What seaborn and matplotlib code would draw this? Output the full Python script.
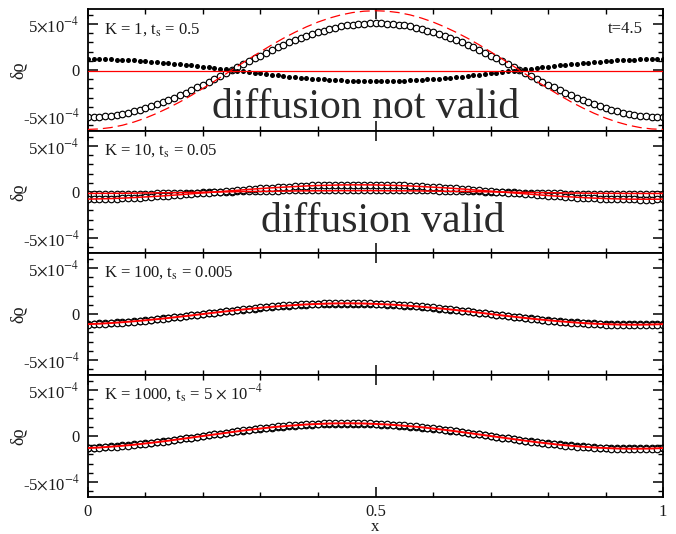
import numpy as np
import pandas as pd
import matplotlib
matplotlib.use("Agg")
import matplotlib.pyplot as plt
from matplotlib.ticker import FixedLocator, MultipleLocator, FixedFormatter
import seaborn as sns

# ---------------- data (values in units of 1e-4) ----------------
x_pts = np.linspace(0.0, 1.0, 101)     # sample positions of the markers
x_line = np.linspace(0.0, 1.0, 51)     # sample positions of the theory curves

# panel 1 : K = 1
p1_open = [
    -5.10, -5.09, -5.06, -5.01, -4.94, -4.85, -4.74, -4.62, -4.47, -4.30,
    -4.13, -3.93, -3.72, -3.49, -3.25, -3.00, -2.73, -2.46, -2.17, -1.88,
    -1.58, -1.27, -0.95, -0.64, -0.32, 0.00,
    0.32, 0.64, 0.95, 1.27, 1.58, 1.88, 2.17, 2.46, 2.73, 3.00, 3.25, 3.49, 3.72,
    3.93, 4.13, 4.30, 4.47, 4.62, 4.74, 4.85, 4.94, 5.01, 5.06, 5.09, 5.10,
    5.09, 5.06, 5.01, 4.94, 4.85, 4.74, 4.62, 4.47, 4.30, 4.13, 3.93, 3.72, 3.49,
    3.25, 3.00, 2.73, 2.46, 2.17, 1.88, 1.58, 1.27, 0.95, 0.64, 0.32, 0.00,
    -0.32, -0.64, -0.95, -1.27, -1.58, -1.88, -2.17, -2.46, -2.73, -3.00, -3.25,
    -3.49, -3.72, -3.93, -4.13, -4.30, -4.47, -4.62, -4.74, -4.85, -4.94, -5.01,
    -5.06, -5.09, -5.10]
p1_filled = [
    1.20, 1.20, 1.19, 1.18, 1.16, 1.14, 1.12, 1.09, 1.05, 1.01, 0.97, 0.93, 0.87,
    0.82, 0.76, 0.71, 0.64, 0.58, 0.51, 0.44, 0.37, 0.30, 0.22, 0.15, 0.08, 0.00,
    -0.08, -0.15, -0.22, -0.30, -0.37, -0.44, -0.51, -0.58, -0.64, -0.71, -0.76,
    -0.82, -0.87, -0.93, -0.97, -1.01, -1.05, -1.09, -1.12, -1.14, -1.16, -1.18,
    -1.19, -1.20, -1.20,
    -1.20, -1.19, -1.18, -1.16, -1.14, -1.12, -1.09, -1.05, -1.01, -0.97, -0.93,
    -0.87, -0.82, -0.76, -0.71, -0.64, -0.58, -0.51, -0.44, -0.37, -0.30, -0.22,
    -0.15, -0.08, 0.00,
    0.08, 0.15, 0.22, 0.30, 0.37, 0.44, 0.51, 0.58, 0.64, 0.71, 0.76, 0.82, 0.87,
    0.93, 0.97, 1.01, 1.05, 1.09, 1.12, 1.14, 1.16, 1.18, 1.19, 1.20, 1.20]
p1_theory_dashed = [
    -6.45, -6.40, -6.25, -6.00, -5.65, -5.22, -4.70, -4.11, -3.46, -2.75, -1.99,
    -1.21, -0.41, 0.41, 1.21, 1.99, 2.75, 3.46, 4.11, 4.70, 5.22, 5.65, 6.00, 6.25,
    6.40, 6.45, 6.40, 6.25, 6.00, 5.65, 5.22, 4.70, 4.11, 3.46, 2.75, 1.99, 1.21,
    0.41, -0.41, -1.21, -1.99, -2.75, -3.46, -4.11, -4.70, -5.22, -5.65, -6.00,
    -6.25, -6.40, -6.45]
p1_theory_flat_x = [0.0, 1.0]
p1_theory_flat = [-0.07, -0.07]

# panel 2 : K = 10
p2_a = [
    -0.81, -0.79, -0.78, -0.76, -0.74, -0.72, -0.69, -0.66, -0.63, -0.60, -0.56,
    -0.52, -0.48, -0.44, -0.40, -0.35, -0.30, -0.25, -0.20, -0.15, -0.10, -0.05, 0.00,
    0.05, 0.10, 0.15, 0.20, 0.25, 0.30, 0.35, 0.40, 0.44, 0.48, 0.52, 0.56, 0.60,
    0.63, 0.66, 0.69, 0.72, 0.74, 0.76, 0.78, 0.79, 0.81, 0.81, 0.82, 0.82,
    0.82, 0.81, 0.81, 0.79, 0.78, 0.76, 0.74, 0.72, 0.69, 0.66, 0.63, 0.60, 0.56,
    0.52, 0.48, 0.44, 0.40, 0.35, 0.30, 0.25, 0.20, 0.15, 0.10, 0.05, 0.00,
    -0.05, -0.10, -0.15, -0.20, -0.25, -0.30, -0.35, -0.40, -0.44, -0.48, -0.52,
    -0.56, -0.60, -0.63, -0.66, -0.69, -0.72, -0.74, -0.76, -0.78, -0.79, -0.81,
    -0.81, -0.82, -0.82,
    -0.82, -0.81, -0.81]
p2_b = [
    -0.25, -0.24, -0.24, -0.23, -0.23, -0.22, -0.21, -0.20, -0.19, -0.18, -0.17,
    -0.16, -0.15, -0.13, -0.12, -0.11, -0.09, -0.08, -0.06, -0.05, -0.03, -0.02, 0.00,
    0.02, 0.03, 0.05, 0.06, 0.08, 0.09, 0.11, 0.12, 0.13, 0.15, 0.16, 0.17, 0.18,
    0.19, 0.20, 0.21, 0.22, 0.23, 0.23, 0.24, 0.24, 0.25, 0.25, 0.25, 0.25,
    0.25, 0.25, 0.25, 0.24, 0.24, 0.23, 0.23, 0.22, 0.21, 0.20, 0.19, 0.18, 0.17,
    0.16, 0.15, 0.13, 0.12, 0.11, 0.09, 0.08, 0.06, 0.05, 0.03, 0.02, 0.00,
    -0.02, -0.03, -0.05, -0.06, -0.08, -0.09, -0.11, -0.12, -0.13, -0.15, -0.16,
    -0.17, -0.18, -0.19, -0.20, -0.21, -0.22, -0.23, -0.23, -0.24, -0.24, -0.25,
    -0.25, -0.25, -0.25,
    -0.25, -0.25, -0.25]
p2_theory_a = [
    -0.77, -0.74, -0.71, -0.66, -0.60, -0.53, -0.46, -0.38, -0.29, -0.19, -0.10, 0.00,
    0.10, 0.19, 0.29, 0.38, 0.46, 0.53, 0.60, 0.66, 0.71, 0.74, 0.77, 0.78,
    0.78, 0.77, 0.74, 0.71, 0.66, 0.60, 0.53, 0.46, 0.38, 0.29, 0.19, 0.10, 0.00,
    -0.10, -0.19, -0.29, -0.38, -0.46, -0.53, -0.60, -0.66, -0.71, -0.74, -0.77, -0.78,
    -0.78, -0.77]
p2_theory_b = [
    -0.15, -0.14, -0.14, -0.13, -0.12, -0.10, -0.09, -0.07, -0.06, -0.04, -0.02, 0.00,
    0.02, 0.04, 0.06, 0.07, 0.09, 0.10, 0.12, 0.13, 0.14, 0.14, 0.15, 0.15,
    0.15, 0.15, 0.14, 0.14, 0.13, 0.12, 0.10, 0.09, 0.07, 0.06, 0.04, 0.02, 0.00,
    -0.02, -0.04, -0.06, -0.07, -0.09, -0.10, -0.12, -0.13, -0.14, -0.14, -0.15, -0.15,
    -0.15, -0.15]

# panel 3 : K = 100
p3_a = [
    -1.14, -1.12, -1.09, -1.05, -1.01, -0.97, -0.93, -0.87, -0.82, -0.76, -0.71,
    -0.64, -0.58, -0.51, -0.44, -0.37, -0.30, -0.22, -0.15, -0.08, 0.00,
    0.08, 0.15, 0.22, 0.30, 0.37, 0.44, 0.51, 0.58, 0.64, 0.71, 0.76, 0.82, 0.87,
    0.93, 0.97, 1.01, 1.05, 1.09, 1.12, 1.14, 1.16, 1.18, 1.19, 1.20, 1.20,
    1.20, 1.19, 1.18, 1.16, 1.14, 1.12, 1.09, 1.05, 1.01, 0.97, 0.93, 0.87, 0.82,
    0.76, 0.71, 0.64, 0.58, 0.51, 0.44, 0.37, 0.30, 0.22, 0.15, 0.08, 0.00,
    -0.08, -0.15, -0.22, -0.30, -0.37, -0.44, -0.51, -0.58, -0.64, -0.71, -0.76,
    -0.82, -0.87, -0.93, -0.97, -1.01, -1.05, -1.09, -1.12, -1.14, -1.16, -1.18,
    -1.19, -1.20, -1.20,
    -1.20, -1.19, -1.18, -1.16, -1.14]
p3_b = [
    -1.07, -1.04, -1.01, -0.98, -0.95, -0.91, -0.86, -0.82, -0.77, -0.71, -0.66,
    -0.60, -0.54, -0.48, -0.41, -0.35, -0.28, -0.21, -0.14, -0.07, 0.00,
    0.07, 0.14, 0.21, 0.28, 0.35, 0.41, 0.48, 0.54, 0.60, 0.66, 0.71, 0.77, 0.82,
    0.86, 0.91, 0.95, 0.98, 1.01, 1.04, 1.07, 1.09, 1.10, 1.11, 1.12, 1.12,
    1.12, 1.11, 1.10, 1.09, 1.07, 1.04, 1.01, 0.98, 0.95, 0.91, 0.86, 0.82, 0.77,
    0.71, 0.66, 0.60, 0.54, 0.48, 0.41, 0.35, 0.28, 0.21, 0.14, 0.07, 0.00,
    -0.07, -0.14, -0.21, -0.28, -0.35, -0.41, -0.48, -0.54, -0.60, -0.66, -0.71,
    -0.77, -0.82, -0.86, -0.91, -0.95, -0.98, -1.01, -1.04, -1.07, -1.09, -1.10,
    -1.11, -1.12, -1.12,
    -1.12, -1.11, -1.10, -1.09, -1.07]
p3_theory = [
    -1.10, -1.05, -0.98, -0.89, -0.79, -0.68, -0.56, -0.43, -0.29, -0.15, 0.00,
    0.15, 0.29, 0.43, 0.56, 0.68, 0.79, 0.89, 0.98, 1.05, 1.10, 1.14, 1.16,
    1.16, 1.14, 1.10, 1.05, 0.98, 0.89, 0.79, 0.68, 0.56, 0.43, 0.29, 0.15, 0.00,
    -0.15, -0.29, -0.43, -0.56, -0.68, -0.79, -0.89, -0.98, -1.05, -1.10, -1.14, -1.16,
    -1.16, -1.14, -1.10]

# panel 4 : K = 1000
p4_a = [
    -1.35, -1.32, -1.29, -1.24, -1.20, -1.15, -1.09, -1.04, -0.97, -0.90, -0.83,
    -0.76, -0.68, -0.60, -0.52, -0.44, -0.35, -0.27, -0.18, -0.09, 0.00,
    0.09, 0.18, 0.27, 0.35, 0.44, 0.52, 0.60, 0.68, 0.76, 0.83, 0.90, 0.97, 1.04,
    1.09, 1.15, 1.20, 1.24, 1.29, 1.32, 1.35, 1.38, 1.39, 1.41, 1.42, 1.42,
    1.42, 1.41, 1.39, 1.38, 1.35, 1.32, 1.29, 1.24, 1.20, 1.15, 1.09, 1.04, 0.97,
    0.90, 0.83, 0.76, 0.68, 0.60, 0.52, 0.44, 0.35, 0.27, 0.18, 0.09, 0.00,
    -0.09, -0.18, -0.27, -0.35, -0.44, -0.52, -0.60, -0.68, -0.76, -0.83, -0.90,
    -0.97, -1.04, -1.09, -1.15, -1.20, -1.24, -1.29, -1.32, -1.35, -1.38, -1.39,
    -1.41, -1.42, -1.42,
    -1.42, -1.41, -1.39, -1.38, -1.35]
p4_b = [
    -1.27, -1.25, -1.21, -1.17, -1.13, -1.08, -1.03, -0.98, -0.92, -0.85, -0.79,
    -0.72, -0.65, -0.57, -0.49, -0.41, -0.33, -0.25, -0.17, -0.08, 0.00,
    0.08, 0.17, 0.25, 0.33, 0.41, 0.49, 0.57, 0.65, 0.72, 0.79, 0.85, 0.92, 0.98,
    1.03, 1.08, 1.13, 1.17, 1.21, 1.25, 1.27, 1.30, 1.32, 1.33, 1.34, 1.34,
    1.34, 1.33, 1.32, 1.30, 1.27, 1.25, 1.21, 1.17, 1.13, 1.08, 1.03, 0.98, 0.92,
    0.85, 0.79, 0.72, 0.65, 0.57, 0.49, 0.41, 0.33, 0.25, 0.17, 0.08, 0.00,
    -0.08, -0.17, -0.25, -0.33, -0.41, -0.49, -0.57, -0.65, -0.72, -0.79, -0.85,
    -0.92, -0.98, -1.03, -1.08, -1.13, -1.17, -1.21, -1.25, -1.27, -1.30, -1.32,
    -1.33, -1.34, -1.34,
    -1.34, -1.33, -1.32, -1.30, -1.27]
p4_theory = [
    -1.31, -1.25, -1.16, -1.06, -0.95, -0.81, -0.67, -0.51, -0.34, -0.17, 0.00,
    0.17, 0.34, 0.51, 0.67, 0.81, 0.95, 1.06, 1.16, 1.25, 1.31, 1.36, 1.38,
    1.38, 1.36, 1.31, 1.25, 1.16, 1.06, 0.95, 0.81, 0.67, 0.51, 0.34, 0.17, 0.00,
    -0.17, -0.34, -0.51, -0.67, -0.81, -0.95, -1.06, -1.16, -1.25, -1.31, -1.36, -1.38,
    -1.38, -1.36, -1.31]

panel_labels = [r"K = 1, t$_{\rm s}$ = 0.5",
                r"K = 10, t$_{\rm s}$ = 0.05",
                r"K = 100, t$_{\rm s}$ = 0.005",
                r"K = 1000, t$_{\rm s}$ = 5 $\times$ 10$^{-4}$"]
ytick_vals = [-5e-4, 0.0, 5e-4]
ytick_text = [r"-5$\times$10$^{-4}$", "0", r"5$\times$10$^{-4}$"]
xtick_vals = [0.0, 0.5, 1.0]
xtick_text = ["0", "0.5", "1"]
SCALE = 1e-4

# ---------------- style ----------------
sns.set_theme(style="ticks")
plt.rcParams["font.family"] = ["Liberation Serif", "DejaVu Serif"]
plt.rcParams["mathtext.fontset"] = "stix"
plt.rcParams["axes.linewidth"] = 1.3
plt.rcParams["axes.edgecolor"] = "black"
TXT = "#1a1a1a"

fig, axes = plt.subplots(4, 1, sharex=True, figsize=(6.76, 5.34), dpi=100)
fig.subplots_adjust(left=0.130, right=0.981, top=0.983, bottom=0.0693, hspace=0)

def circles(ax, y, z=2):
    sns.scatterplot(x=x_pts, y=np.array(y) * SCALE, ax=ax, marker="o", s=22,
                    facecolor="white", edgecolor="black", linewidth=0.85,
                    zorder=z, legend=False)

def dots(ax, y):
    sns.scatterplot(x=x_pts, y=np.array(y) * SCALE, ax=ax, marker="o", s=13,
                    color="black", linewidth=0, zorder=2, legend=False)

def theory(ax, xs, y, lw=1.0, ls="-"):
    sns.lineplot(x=xs, y=np.array(y) * SCALE, ax=ax, color="#ff0000", lw=lw,
                 linestyle=ls, zorder=4, legend=False)

ax1, ax2, ax3, ax4 = axes
circles(ax1, p1_open)
dots(ax1, p1_filled)
theory(ax1, x_line, p1_theory_dashed, lw=0.9, ls=(0, (8, 4)))
theory(ax1, p1_theory_flat_x, p1_theory_flat, lw=0.9)

circles(ax2, p2_b)
circles(ax2, p2_a)
theory(ax2, x_line, p2_theory_a, lw=1.1)
theory(ax2, x_line, p2_theory_b, lw=1.1)

circles(ax3, p3_b)
circles(ax3, p3_a)
theory(ax3, x_line, p3_theory, lw=1.4)

circles(ax4, p4_b)
circles(ax4, p4_a)
theory(ax4, x_line, p4_theory, lw=1.4)

for i, ax in enumerate(axes):
    ax.set_xlim(0, 1)
    ax.set_ylim(-6.63e-4, 6.63e-4)
    ax.xaxis.set_major_locator(FixedLocator(xtick_vals))
    ax.xaxis.set_minor_locator(MultipleLocator(0.1))
    ax.yaxis.set_major_locator(FixedLocator(ytick_vals))
    ax.yaxis.set_major_formatter(FixedFormatter(ytick_text))
    ax.yaxis.set_minor_locator(MultipleLocator(1e-4))
    ax.tick_params(which="both", direction="in", top=True, right=True,
                   colors="black", labelcolor=TXT, labelsize=12)
    ax.tick_params(which="major", length=7, width=1.1, pad=6)
    ax.tick_params(which="minor", length=3.5, width=1.0)
    ax.set_ylabel("δϱ", fontsize=13, color=TXT)
    ax.yaxis.set_label_coords(-0.105, 0.5)
    ax.set_xlabel("")
    ax.text(0.028, 0.803, panel_labels[i], transform=ax.transAxes,
            fontsize=12, color=TXT, ha="left", va="baseline")
    for sp in ax.spines.values():
        sp.set_visible(True)
        sp.set_color("black")

ax4.xaxis.set_major_formatter(FixedFormatter(xtick_text))
ax4.tick_params(axis="x", labelsize=12, pad=5)
ax4.set_xlabel("x", fontsize=12, color=TXT, labelpad=-1)

ax1.text(0.965, 0.803, "t=4.5", transform=ax1.transAxes, fontsize=12,
         color=TXT, ha="right", va="baseline")
ax1.text(0.483, -5.2e-4, "diffusion not valid", fontsize=30, color="#2a2a2a",
         ha="center", va="baseline", zorder=1)
ax2.text(0.512, -4.3e-4, "diffusion valid", fontsize=30, color="#2a2a2a",
         ha="center", va="baseline", zorder=1)

fig.savefig("out.png", dpi=100)
